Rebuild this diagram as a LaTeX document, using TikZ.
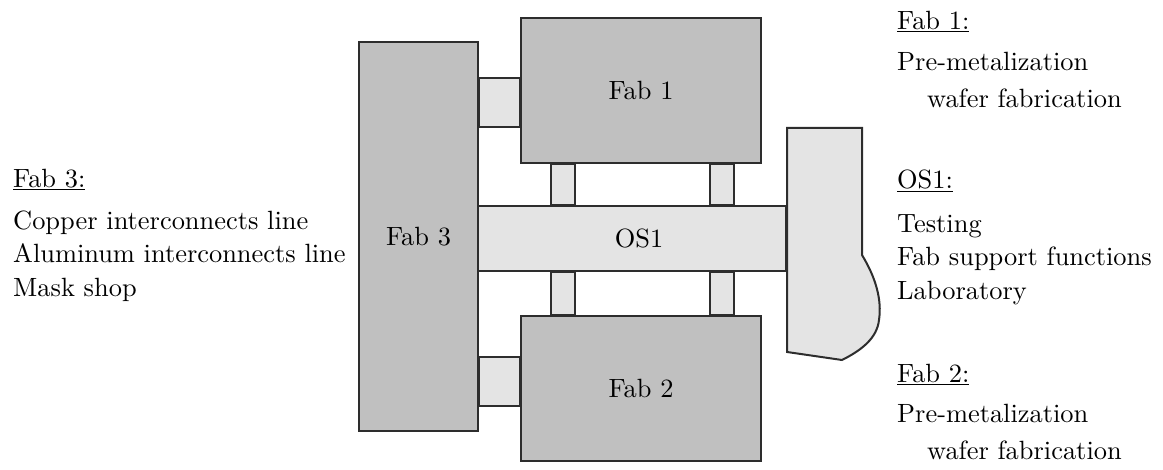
\documentclass[tikz,border=0pt]{standalone}
\usepackage{fontspec}
\setmainfont{lmroman10-regular.otf}
\usetikzlibrary{calc,backgrounds}
\definecolor{fabgray}{RGB}{192,192,192}
\definecolor{linkgray}{RGB}{228,228,228}
\definecolor{edgegray}{RGB}{45,45,45}
\begin{document}
\begin{tikzpicture}[
x=1pt, y=-1pt,
font=\fontsize{26.4}{33.5}\selectfont,
fab/.style={draw=edgegray, fill=fabgray, line width=2pt, inner sep=0pt},
bridge/.style={draw=edgegray, fill=linkgray, line width=2pt},
note/.style={anchor=north west, inner sep=0pt, align=left}
]
\useasboundingbox (0,0) rectangle (1163,470);

\node[fab, minimum width=119, minimum height=389] (fab3) at (418.5,236.5) {Fab 3};
\node[fab, minimum width=240, minimum height=145] (fab1) at (641,90.5) {Fab 1};
\node[fab, minimum width=240, minimum height=145] (fab2) at (641,388.5) {Fab 2};
\node[bridge, minimum width=308, minimum height=65, inner sep=0pt] (os1) at (632,238.5) {};
\node (os1label) at (639,238.5) {OS1};

\begin{scope}[on background layer]
\draw[bridge] (fab3.east |- 0,78) rectangle (fab1.west |- 0,127);
\draw[bridge] (fab3.east |- 0,357) rectangle (fab2.west |- 0,406);
\foreach \x in {551,710} {
  \draw[bridge] (\x,0 |- fab1.south) rectangle (\x+24,0 |- os1.north);
  \draw[bridge] (\x,0 |- os1.south) rectangle (\x+24,0 |- fab2.north);
}
\end{scope}

% support annex
\draw[bridge] (os1.east |- 0,128) -- (862,128) -- (862,255)
  .. controls (876,278) and (882,300) .. (879,320)
  .. controls (877,338) and (862,350) .. (842,360) -- (os1.east |- 0,352) -- cycle;

\node[note] (fab3note) at (13,169) {\underline{Fab 3:}\\[8pt] Copper interconnects line\\ Aluminum interconnects line\\ Mask shop};
\node[note] (fab1note) at (897,11) {\underline{Fab 1:}\\[7pt] Pre-metalization\\[4pt] \hspace*{30pt}wafer fabrication};
\node[note] (os1note) at (897,170) {\underline{OS1:}\\[10pt] Testing\\ Fab support functions\\ Laboratory};
\node[note] (fab2note) at (897,364) {\underline{Fab 2:}\\[6pt] Pre-metalization\\[4pt] \hspace*{30pt}wafer fabrication};
\end{tikzpicture}
\end{document}
